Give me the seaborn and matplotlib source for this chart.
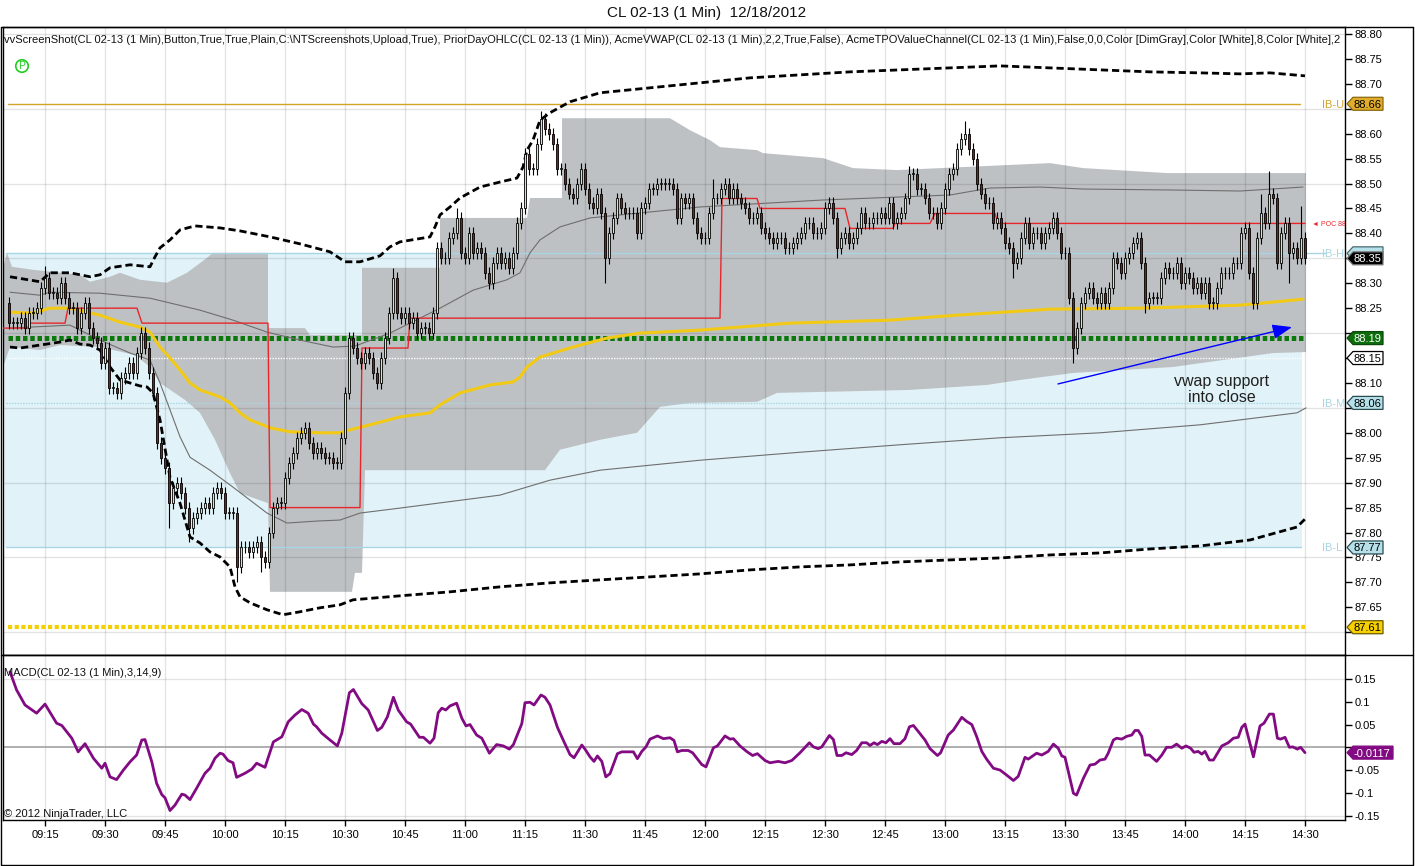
import numpy as np
import matplotlib
matplotlib.use("Agg")
import matplotlib.pyplot as plt
import seaborn as sns
from matplotlib.patches import Polygon, Rectangle
from matplotlib.lines import Line2D
from matplotlib.transforms import blended_transform_factory

sns.set_style("white")
plt.rcParams['font.family'] = ['Liberation Sans', 'DejaVu Sans']

# ---------------------------------------------------------------- data
TITLE = "CL 02-13 (1 Min)  12/18/2012"
HEADER = ("vvScreenShot(CL 02-13 (1 Min),Button,True,True,Plain,C:\\NTScreenshots,Upload,True), "
          "PriorDayOHLC(CL 02-13 (1 Min)), AcmeVWAP(CL 02-13 (1 Min),2,2,True,False), "
          "AcmeTPOValueChannel(CL 02-13 (1 Min),False,0,0,Color [DimGray],Color [White],8,Color [White],2")
MACD_LABEL = "MACD(CL 02-13 (1 Min),3,14,9)"
COPYRIGHT = "\u00a9 2012 NinjaTrader, LLC"

TIME_LABELS = ["09:15", "09:30", "09:45", "10:00", "10:15", "10:30", "10:45", "11:00",
               "11:15", "11:30", "11:45", "12:00", "12:15", "12:30", "12:45", "13:00",
               "13:15", "13:30", "13:45", "14:00", "14:15", "14:30"]
TIME_BARS = [9 + 15 * k for k in range(len(TIME_LABELS))]   # 1-min bars from 09:06

FIRST_OPEN = 88.26
CLOSE = [
    # 09:06 - 10:33
    88.22, 88.22, 88.22, 88.23, 88.21, 88.24, 88.24, 88.25, 88.29, 88.31,
    88.28, 88.28, 88.27, 88.30, 88.27, 88.25, 88.25, 88.21, 88.24, 88.26,
    88.21, 88.19, 88.18, 88.14, 88.17, 88.09, 88.09, 88.08, 88.11, 88.12,
    88.14, 88.12, 88.16, 88.20, 88.17, 88.12, 88.08, 87.98, 87.95, 87.93,
    87.86, 87.89, 87.90, 87.88, 87.85, 87.81, 87.83, 87.84, 87.85, 87.86,
    87.85, 87.88, 87.89, 87.88, 87.84, 87.84, 87.84, 87.73, 87.77, 87.77,
    87.76, 87.77, 87.78, 87.75, 87.74, 87.80, 87.85, 87.86, 87.86, 87.91,
    87.94, 87.96, 87.99, 88.00, 88.01, 87.98, 87.96, 87.97, 87.96, 87.95,
    87.95, 87.94, 87.94, 87.99, 88.08, 88.19, 88.17, 88.15,
    # 10:34 - 11:58
    88.14, 88.16, 88.15, 88.12, 88.10, 88.15, 88.19, 88.24, 88.31, 88.24,
    88.23, 88.24, 88.22, 88.23, 88.20, 88.21, 88.21, 88.20, 88.24, 88.37,
    88.35, 88.35, 88.39, 88.40, 88.43, 88.36, 88.35, 88.40, 88.36, 88.37,
    88.36, 88.32, 88.30, 88.34, 88.36, 88.34, 88.35, 88.33, 88.36, 88.42,
    88.45, 88.56, 88.53, 88.53, 88.58, 88.63, 88.61, 88.60, 88.58, 88.53,
    88.53, 88.50, 88.48, 88.47, 88.50, 88.53, 88.49, 88.46, 88.45, 88.48,
    88.44, 88.35, 88.40, 88.43, 88.47, 88.45, 88.44, 88.44, 88.44, 88.40,
    88.45, 88.46, 88.49, 88.49, 88.50, 88.50, 88.50, 88.50, 88.49, 88.43,
    88.47, 88.46, 88.47, 88.43, 88.40,
    # 11:59 - 13:26
    88.39, 88.39, 88.44, 88.47, 88.47, 88.49, 88.50, 88.47, 88.49, 88.47,
    88.46, 88.45, 88.43, 88.43, 88.44, 88.41, 88.40, 88.39, 88.38, 88.39,
    88.39, 88.37, 88.37, 88.38, 88.39, 88.40, 88.42, 88.42, 88.40, 88.40,
    88.41, 88.45, 88.46, 88.43, 88.37, 88.39, 88.40, 88.38, 88.39, 88.41,
    88.44, 88.42, 88.42, 88.43, 88.43, 88.44, 88.43, 88.46, 88.42, 88.43,
    88.44, 88.47, 88.52, 88.52, 88.49, 88.49, 88.47, 88.44, 88.44, 88.42,
    88.45, 88.49, 88.52, 88.53, 88.57, 88.59, 88.60, 88.57, 88.55, 88.50,
    88.48, 88.46, 88.46, 88.42, 88.43, 88.41, 88.38, 88.37, 88.34, 88.35,
    88.39, 88.42, 88.38, 88.40, 88.40, 88.38, 88.40, 88.41,
    # 13:27 - 14:30
    88.43, 88.40, 88.36, 88.36, 88.27, 88.17, 88.21, 88.26, 88.28, 88.29,
    88.27, 88.26, 88.28, 88.26, 88.29, 88.35, 88.34, 88.32, 88.35, 88.36,
    88.38, 88.39, 88.34, 88.26, 88.27, 88.27, 88.27, 88.31, 88.33, 88.32,
    88.32, 88.34, 88.30, 88.32, 88.31, 88.29, 88.30, 88.28, 88.30, 88.26,
    88.26, 88.29, 88.32, 88.32, 88.32, 88.34, 88.34, 88.40, 88.41, 88.32,
    88.26, 88.39, 88.44, 88.42, 88.48, 88.47, 88.34, 88.40, 88.42, 88.36,
    88.37, 88.35, 88.39, 88.35,
]
HIGH_OVERRIDE = {9: 88.335, 96: 88.33, 112: 88.45, 133: 88.645, 225: 88.535,
                 239: 88.625, 176: 88.51, 315: 88.525, 313: 88.48, 323: 88.455}
LOW_OVERRIDE = {40: 87.81, 45: 87.78, 57: 87.70, 63: 87.72, 149: 88.30, 207: 88.35,
                251: 88.31, 266: 88.14, 284: 88.24, 311: 88.25, 320: 88.30}

# TPO value channel (grey band) edges
TPO_UP_X = [-1.5, -0.5, 0.75, 6, 17.75, 20.25, 25.25, 27.75, 32.75, 39.5, 44.5, 49.5, 51, 64.75,
            64.75, 74, 75.25, 88.25, 88.25, 107.75, 107.75, 129.5, 130.25, 138.25, 138.25,
            165.25, 170.25, 175.25, 177.75, 187, 188.5, 203.5, 211, 222, 260.25, 268.5, 289.5, 324.25]
TPO_UP_Y = [88.33, 88.361, 88.333, 88.327, 88.317, 88.303, 88.313, 88.321, 88.307, 88.301,
            88.321, 88.351, 88.361, 88.361, 88.210, 88.210, 88.196, 88.196, 88.331, 88.331,
            88.431, 88.431, 88.471, 88.471, 88.631, 88.631, 88.607, 88.587, 88.573, 88.567,
            88.561, 88.551, 88.531, 88.527, 88.541, 88.531, 88.521, 88.521]
TPO_LO_X = [-1.5, 0.25, 7.75, 12.75, 22.75, 31.5, 35.25, 37.75, 44, 47.75, 51.5, 55.25, 57.75,
            64.75, 65.25, 85.75, 86.5, 88.25, 89, 134, 137.75, 147.75, 157, 162.75, 170.25, 187,
            192, 225.25, 244.5, 252.75, 266, 291, 316, 324.25]
TPO_LO_Y = [88.132, 88.172, 88.166, 88.176, 88.172, 88.156, 88.132, 88.100, 88.066, 88.040,
            87.986, 87.919, 87.879, 87.859, 87.681, 87.681, 87.719, 87.719, 87.925, 87.925,
            87.966, 87.986, 88.000, 88.052, 88.060, 88.062, 88.080, 88.086, 88.096, 88.106,
            88.120, 88.132, 88.160, 88.162]

# VWAP and its bands
VWAP_X = [0.25, 6, 10.25, 15.25, 22.75, 27.75, 32.75, 35.25, 37.75, 40.25, 42.75, 45.25, 47.75,
          52.75, 55.25, 57.75, 60.25, 65.25, 70.25, 77.75, 82.75, 85.25, 90.25, 97.75, 105.25,
          107.75, 112.75, 120.25, 126, 127.75, 129.5, 132.75, 141, 149.5, 157.75, 172.75, 195.25,
          220.25, 237, 260.25, 282.75, 307.75, 323.5]
VWAP_Y = [88.242, 88.240, 88.250, 88.250, 88.236, 88.222, 88.212, 88.202, 88.172, 88.150,
          88.126, 88.100, 88.086, 88.072, 88.060, 88.040, 88.026, 88.010, 88.002, 88.000,
          88.000, 88.006, 88.016, 88.032, 88.040, 88.056, 88.080, 88.096, 88.102, 88.112,
          88.132, 88.152, 88.172, 88.190, 88.200, 88.206, 88.220, 88.226, 88.236, 88.248,
          88.250, 88.256, 88.268]
UB2_X = [0.25, 7.75, 10.25, 15.25, 20.25, 22.75, 25.25, 30.25, 35.25, 36.5, 37.75, 40.25, 42.75,
         46.5, 52.75, 57.75, 65.25, 72.75, 80.25, 84, 87.75, 92.75, 95.25, 97.75, 105.25, 106.5,
         107.75, 110.25, 112.75, 117.75, 122.75, 127, 128.5, 129.5, 131, 132.75, 135.25, 140.25,
         147.75, 160.25, 172.75, 185.25, 197.75, 210.25, 222.75, 235.25, 247.75, 260.25, 272.75,
         285.25, 297.75, 307.75, 315.25, 324]
UB2_Y = [88.313, 88.303, 88.321, 88.321, 88.313, 88.317, 88.331, 88.337, 88.333, 88.353,
         88.371, 88.387, 88.407, 88.415, 88.411, 88.405, 88.393, 88.379, 88.363, 88.343,
         88.343, 88.355, 88.373, 88.383, 88.393, 88.413, 88.437, 88.453, 88.471, 88.493,
         88.503, 88.511, 88.533, 88.567, 88.587, 88.627, 88.642, 88.664, 88.682, 88.692,
         88.702, 88.712, 88.718, 88.724, 88.728, 88.732, 88.736, 88.732, 88.728, 88.724,
         88.722, 88.720, 88.722, 88.716]
LB2_X = [0.25, 2.75, 7.75, 12.75, 15.25, 17.75, 20.25, 22.75, 25.25, 27.75, 30.25, 32.75, 34.5,
         36, 37.75, 40.25, 42.75, 45.25, 47.75, 50.25, 52.75, 55.25, 56.5, 57.75, 60.25, 64.5,
         68.5, 72.75, 77.75, 82.75, 86, 97.75, 110.25, 122.75, 135.25, 147.75, 160.25, 172.75,
         185.25, 197.75, 210.25, 222.75, 235.25, 247.75, 260.25, 272.75, 285.25, 297.75, 310.25,
         322, 324.25]
LB2_Y = [88.172, 88.170, 88.176, 88.182, 88.186, 88.178, 88.176, 88.166, 88.132, 88.106,
         88.100, 88.094, 88.092, 88.080, 88.026, 87.911, 87.859, 87.791, 87.779, 87.761,
         87.751, 87.731, 87.691, 87.671, 87.659, 87.645, 87.635, 87.641, 87.649, 87.655,
         87.665, 87.673, 87.681, 87.691, 87.699, 87.705, 87.711, 87.717, 87.725, 87.731,
         87.735, 87.741, 87.745, 87.749, 87.755, 87.759, 87.767, 87.773, 87.785, 87.811, 87.829]
UB1_X = [0.25, 7.75, 10.25, 22.75, 35.25, 47.75, 56, 64.5, 72.75, 81, 86.5, 95.25, 107.75, 116,
         124.5, 127.75, 130.25, 132.75, 137.75, 145.25, 157.75, 172.75, 203.5, 235.25, 245.25,
         257.75, 268.5, 291, 307.75, 323.5]
UB1_Y = [88.282, 88.276, 88.282, 88.280, 88.270, 88.246, 88.226, 88.202, 88.186, 88.172,
         88.174, 88.200, 88.250, 88.286, 88.307, 88.321, 88.361, 88.387, 88.413, 88.431,
         88.441, 88.453, 88.467, 88.477, 88.491, 88.493, 88.489, 88.487, 88.485, 88.493]
LB1_X = [0.25, 15.25, 22.75, 30.25, 35.25, 37.75, 40.25, 42.75, 45.25, 50.25, 56, 60.25, 64.5,
         69.5, 77, 82.75, 87.75, 97.75, 122.75, 135.25, 147.75, 172.75, 197.75, 222.75, 247.75,
         272.75, 297.75, 322, 324.25]
LB1_Y = [88.210, 88.216, 88.186, 88.160, 88.146, 88.100, 88.046, 87.992, 87.951, 87.925,
         87.891, 87.865, 87.839, 87.819, 87.823, 87.825, 87.839, 87.849, 87.875, 87.905,
         87.925, 87.945, 87.961, 87.976, 87.990, 88.000, 88.016, 88.040, 88.050]

# Point of control (step line)
POC_X = [-1.5, 5.25, 5.25, 14, 14.75, 32, 33.25, 64.75, 65.25, 87.75, 88.25, 99.75, 100.25,
         177.75, 178.25, 187, 187.75, 209, 210.25, 221, 221.5, 230.25, 231.5, 246.5, 247.25, 324]
POC_Y = [88.21, 88.21, 88.22, 88.22, 88.25, 88.25, 88.22, 88.22, 87.85, 87.85, 88.17, 88.17,
         88.23, 88.23, 88.47, 88.47, 88.45, 88.45, 88.41, 88.41, 88.42, 88.42, 88.44, 88.44,
         88.42, 88.42]
POC_LAST = 88.42

# horizontal levels
IB_HIGH, IB_MID, IB_LOW, IB_UPPER = 88.36, 88.06, 87.77, 88.66
PRIOR_LEVEL_GREEN = 88.19
PRIOR_LEVEL_WHITE = 88.15
PRIOR_LEVEL_YELLOW = 87.61
LAST_PRICE = 88.35
MACD_LAST = -0.0117

PRICE_TICKS = [round(87.60 + 0.05 * k, 2) for k in range(25)]
HIDDEN_PRICE_LABELS = [87.60, 88.05, 88.15, 88.20, 88.65]   # covered by the price tags
MACD_TICKS = [0.15, 0.1, 0.05, 0.0, -0.05, -0.1, -0.15]
MACD_TICK_LABELS = ["0.15", "0.1", "0.05", "", "-0.05", "-0.1", "-0.15"]

MACD_POINTS = [(0.25,0.166),(1.9,0.126),(4,0.093),(6.9,0.075),(9,0.095),(11.9,0.053),(13.2,0.048),
    (15.7,0.020),(17.3,-0.010),(19,0.008),(21.1,-0.024),(23.2,-0.046),(24,-0.035),(25.25,-0.065),
    (26.9,-0.071),(28.6,-0.050),(30.25,-0.032),(31.9,-0.017),(33.2,0.016),(34,0.017),(35.7,-0.032),
    (36.9,-0.079),(38.2,-0.104),(39,-0.111),(40.25,-0.139),(41.5,-0.127),(43.2,-0.103),(44,-0.105),
    (45.25,-0.115),(46.9,-0.090),(49,-0.057),(50.25,-0.046),(51.5,-0.024),(52.75,-0.013),(53.5,-0.015),
    (54.75,-0.029),(56,-0.034),(56.9,-0.066),(59,-0.057),(60.7,-0.048),(61.9,-0.035),(64,-0.044),
    (66.1,0.012),(68.2,0.023),(69.8,0.056),(71.5,0.071),(73.2,0.083),(74.8,0.075),(76.1,0.051),
    (76.9,0.045),(78.2,0.031),(80.25,0.016),(82.1,0.003),(83.2,0.031),(85.1,0.120),(86.1,0.127),
    (88.2,0.096),(89.8,0.082),(92.1,0.037),(93.2,0.044),(94.6,0.067),(96.1,0.110),(97.3,0.082),
    (99.4,0.056),(100.4,0.051),(102.6,0.022),(103.6,0.022),(105.25,0.009),(106.25,0.020),(107.3,0.076),
    (108.2,0.086),(109.2,0.082),(110.25,0.091),(111.9,0.097),(113.2,0.064),(114.25,0.047),(115.25,0.050),
    (116.9,0.027),(118.2,0.020),(120.1,-0.013),(121.9,0.006),(123.6,0.003),(125.1,-0.004),(126.1,0.006),
    (128.2,0.052),(129,0.098),(130.25,0.099),(131.25,0.093),(133,0.115),(134,0.110),(135.25,0.093),
    (137.1,0.044),(138.6,0.015),(140.25,-0.016),(141.25,-0.023),(143.2,0.005),(144,-0.004),(145.25,-0.021),
    (146.25,-0.031),(147.1,-0.019),(148.2,-0.031),(149.2,-0.065),(150.25,-0.058),(152.1,-0.014),
    (153.2,-0.010),(156.1,-0.010),(157.1,-0.025),(158.2,-0.009),(159.25,0.001),(160.25,0.018),
    (162.1,0.025),(163.6,0.019),(165.25,0.021),(166.25,0.015),(167.1,-0.010),(168.2,-0.007),
    (169.8,-0.007),(170.9,-0.012),(173.2,-0.038),(174.25,-0.043),(176.1,-0.001),(177.1,0.003),
    (179,0.025),(180.25,0.018),(181.1,0.019),(182.75,0.003),(184.4,-0.009),(185.9,-0.018),(187.1,-0.014),
    (189,-0.029),(190.25,-0.034),(192.3,-0.031),(194,-0.034),(195.7,-0.029),(197.75,-0.012),(200.1,0.010),
    (201.1,0.001),(202.3,-0.003),(203.2,0.001),(205.1,0.026),(206.1,0.017),(207,-0.018),(208.2,-0.018),
    (209.25,-0.012),(210.7,-0.016),(211.9,-0.007),(213.2,0.010),(214.4,0.010),(215.25,0.004),
    (216.25,0.010),(217.1,0.006),(218.2,0.013),(219.25,0.010),(220.25,0.019),(221.25,0.008),
    (222.75,0.008),(224,0.019),(225.1,0.045),(226.1,0.048),(227.3,0.035),(229,0.016),(230.25,-0.003),
    (232.1,-0.018),(232.9,-0.012),(234.8,0.027),(236.1,0.038),(238.2,0.066),(239.4,0.057),(240.7,0.050),
    (241.9,0.024),(243.2,-0.009),(244.4,-0.026),(246.1,-0.046),(247.75,-0.050),(249.4,-0.061),
    (251.1,-0.073),(252.3,-0.064),(254,-0.022),(254.8,-0.026),(256.9,-0.013),(258.2,-0.017),
    (259.8,-0.009),(261.1,0.007),(262.3,-0.002),(263.2,-0.019),(264,-0.022),(266.1,-0.101),
    (266.9,-0.105),(268.6,-0.068),(270.25,-0.039),(271.5,-0.037),(272.75,-0.028),(274,-0.026),
    (274.8,-0.013),(276.1,0.016),(276.9,0.020),(278.2,0.018),(279.4,0.024),(280.7,0.027),(281.5,0.037),
    (282.3,0.037),(283.2,0.024),(284,-0.017),(285.1,-0.017),(286.9,-0.031),(288.2,-0.017),(289.4,0.0),
    (290.7,0.0),(291.9,0.007),(293.2,-0.002),(294.25,0.003),(295.4,-0.002),(296.25,-0.011),
    (297.3,-0.009),(298.2,-0.015),(299,-0.009),(300.1,-0.028),(301.1,-0.028),(303.2,0.003),
    (304.8,0.010),(306.1,0.020),(307.3,0.022),(308.2,0.044),(309,0.051),(311.1,-0.021),(312.75,0.047),
    (313.75,0.053),(315.1,0.073),(316.1,0.073),(317.1,0.020),(317.9,0.018),(319,0.022),(320.1,0.0),
    (320.9,0.001),(322.1,-0.004),(322.9,0.0),(324,-0.0117)]

ANNOT_TEXT = "vwap support\ninto close"
ANNOT_TEXT_POS = (303.25, 88.087)
ARROW_FROM = (262.25, 88.098)
ARROW_TO = (320.75, 88.212)

# ---------------------------------------------------------------- figure
W, H = 1415, 866
fig = plt.figure(figsize=(W / 100, H / 100), dpi=100)
fig.patch.set_facecolor("white")


def fx(p):
    return p / W


def fy(p):
    return 1 - p / H


ax = fig.add_axes([fx(3), fy(655), (1345 - 3) / W, (655 - 27) / H])
axm = fig.add_axes([fx(3), fy(820), (1345 - 3) / W, (820 - 655) / H])

XMIN, XMAX = -1.5, 334
YMIN, YMAX = 87.5543, 88.814
MMIN, MMAX = -0.1598, 0.2029
PX_PER_PRICE = 498.5
PX_PER_MACD = 455.0

for a in (ax, axm):
    a.set_facecolor("white")
    a.set_xlim(XMIN, XMAX)
    for s in a.spines.values():
        s.set_visible(True)
        s.set_color("black")
        s.set_linewidth(1)

# background regions
ax.add_patch(Rectangle((-1.0, IB_LOW), 323.25 + 1.0, IB_HIGH - IB_LOW,
                       fc="#e1f3f8", ec="none", zorder=1))
ax.fill(np.r_[TPO_UP_X, TPO_LO_X[::-1]], np.r_[TPO_UP_Y, TPO_LO_Y[::-1]],
        color="#bec1c4", lw=0, zorder=2)

# grids
for t in TIME_BARS:
    ax.axvline(t, color="black", alpha=0.11, lw=1, zorder=3)
    axm.axvline(t, color="black", alpha=0.11, lw=1, zorder=1)
for g in np.arange(87.60, 88.81, 0.15):
    ax.axhline(g, color="black", alpha=0.11, lw=1, zorder=3)
for g in (0.15, -0.15):
    axm.axhline(g, color="black", alpha=0.11, lw=1, zorder=1)
axm.axhline(0, color="#9a9a9a", lw=1.1, zorder=2)

# IB / prior-day levels
sns.lineplot(x=[-0.25, 322.75], y=[IB_UPPER, IB_UPPER], ax=ax, color="#d4a32a", lw=1,
             estimator=None, sort=False, zorder=3.5)
sns.lineplot(x=[-0.75, 329], y=[IB_HIGH, IB_HIGH], ax=ax, color="#a8d5e4", lw=1,
             estimator=None, sort=False, zorder=3.5)
sns.lineplot(x=[-0.75, 323], y=[IB_MID, IB_MID], ax=ax, color="#a8d5e4", lw=1,
             linestyle=(0, (1, 1)), estimator=None, sort=False, zorder=3.5)
sns.lineplot(x=[-0.75, 323], y=[IB_LOW, IB_LOW], ax=ax, color="#a8d5e4", lw=1,
             estimator=None, sort=False, zorder=3.5)
sns.lineplot(x=[-0.25, 324], y=[PRIOR_LEVEL_WHITE, PRIOR_LEVEL_WHITE], ax=ax, color="white",
             lw=1, linestyle=(0, (1, 1)), estimator=None, sort=False, zorder=3.6)
sns.lineplot(x=[-0.25, 324], y=[PRIOR_LEVEL_GREEN, PRIOR_LEVEL_GREEN], ax=ax, color="#0b780b",
             lw=3.6, linestyle=(0, (0.9, 0.55)), estimator=None, sort=False, zorder=3.7)
sns.lineplot(x=[-0.25, 324], y=[PRIOR_LEVEL_YELLOW, PRIOR_LEVEL_YELLOW], ax=ax, color="#f4d000",
             lw=3.0, linestyle=(0, (1.0, 0.6)), estimator=None, sort=False, zorder=3.7)

# VWAP bands
sns.lineplot(x=UB1_X, y=UB1_Y, ax=ax, color="#6e6e6e", lw=0.8, estimator=None, sort=False, zorder=4)
sns.lineplot(x=LB1_X, y=LB1_Y, ax=ax, color="#6e6e6e", lw=0.8, estimator=None, sort=False, zorder=4)
sns.lineplot(x=UB2_X, y=UB2_Y, ax=ax, color="black", lw=2.0, linestyle=(0, (2.6, 1.4)),
             estimator=None, sort=False, zorder=4)
sns.lineplot(x=LB2_X, y=LB2_Y, ax=ax, color="black", lw=2.0, linestyle=(0, (2.6, 1.4)),
             estimator=None, sort=False, zorder=4)
sns.lineplot(x=VWAP_X, y=VWAP_Y, ax=ax, color="#f2c914", lw=2.2, estimator=None, sort=False, zorder=4.2)
sns.lineplot(x=POC_X, y=POC_Y, ax=ax, color="#e8262a", lw=1.0, estimator=None, sort=False, zorder=4.3)

# candles
close = np.array(CLOSE)
opens = np.r_[FIRST_OPEN, close[:-1]]
bars = np.arange(len(close))
hi = np.maximum(opens, close) + 0.012
lo = np.minimum(opens, close) - 0.012
for k, v in HIGH_OVERRIDE.items():
    hi[k] = max(hi[k], v)
for k, v in LOW_OVERRIDE.items():
    lo[k] = min(lo[k], v)
body_lo = np.minimum(opens, close)
body_h = np.maximum(np.abs(close - opens), 0.0015)
up = close >= opens
ax.vlines(bars, lo, hi, color="black", lw=0.8, zorder=6)
ax.bar(bars[up], body_h[up], bottom=body_lo[up], width=0.72, color="#cfe6c6",
       edgecolor="black", linewidth=0.6, zorder=7)
ax.bar(bars[~up], body_h[~up], bottom=body_lo[~up], width=0.72, color="#8e1b1b",
       edgecolor="black", linewidth=0.6, zorder=7)

# annotation
ax.annotate("", xy=ARROW_TO, xytext=ARROW_FROM,
            arrowprops=dict(arrowstyle="-|>,head_length=0.85,head_width=0.32", color="#0000ff",
                            lw=1, mutation_scale=14, shrinkA=0, shrinkB=0), zorder=9)
ax.text(*ANNOT_TEXT_POS, ANNOT_TEXT, ha="center", va="center", fontsize=11.5,
        linespacing=1.15, color="#202020", zorder=9)

# MACD
mx, my = zip(*MACD_POINTS)
sns.lineplot(x=list(mx), y=list(my), ax=axm, color="#820a82", lw=2.0, estimator=None,
             sort=False, zorder=3)

# axes limits / ticks
ax.set_ylim(YMIN, YMAX)
axm.set_ylim(MMIN, MMAX)
ax.yaxis.tick_right()
ax.set_yticks(PRICE_TICKS)
ax.set_yticklabels(["" if v in HIDDEN_PRICE_LABELS else f"{v:.2f}" for v in PRICE_TICKS])
ax.tick_params(axis="y", direction="out", length=5, width=1, pad=2, labelsize=8,
               colors="black", right=True, left=False)
ax.tick_params(axis="x", bottom=False, labelbottom=False, top=False)
axm.yaxis.tick_right()
axm.set_yticks(MACD_TICKS)
axm.set_yticklabels(MACD_TICK_LABELS)
axm.tick_params(axis="y", direction="out", length=5, width=1, pad=2, labelsize=8,
                colors="black", right=True, left=False)
axm.set_xticks(TIME_BARS)
axm.set_xticklabels(TIME_LABELS)
axm.tick_params(axis="x", direction="out", length=4, width=1, pad=3, labelsize=8,
                colors="black", bottom=True)
for a in (ax, axm):
    a.set_xlabel("")
    a.set_ylabel("")


# right-hand price tags
def tag(axis, yval, text, fc, tc, ec=None, scale=PX_PER_PRICE, w=30, fs=8):
    tr = blended_transform_factory(fig.transFigure, axis.transData)
    h = 6.5 / scale
    x0, x1, x2 = fx(1347), fx(1353), fx(1353 + w)
    poly = Polygon([[x0, yval], [x1, yval + h], [x2, yval + h], [x2, yval - h], [x1, yval - h]],
                   closed=True, transform=tr, fc=fc, ec=ec or fc, lw=0.9, clip_on=False, zorder=20)
    axis.add_patch(poly)
    if text:
        axis.text(fx(1353 + w / 2 - 1), yval, text, transform=tr, ha="center",
                  va="center_baseline", color=tc, fontsize=fs, clip_on=False, zorder=21)


tag(ax, IB_UPPER, f"{IB_UPPER:.2f}", "#e0ac2a", "black", ec="#8a6a10")
tag(ax, IB_HIGH, "", "#b5e0ea", "black", ec="#4a6a70")      # hidden behind last-price tag
tag(ax, LAST_PRICE, f"{LAST_PRICE:.2f}", "black", "white", ec="#808080")
tag(ax, PRIOR_LEVEL_GREEN, f"{PRIOR_LEVEL_GREEN:.2f}", "#0b6e0b", "white", ec="#0b4a0b")
tag(ax, PRIOR_LEVEL_WHITE, f"{PRIOR_LEVEL_WHITE:.2f}", "white", "black", ec="black")
tag(ax, IB_MID, f"{IB_MID:.2f}", "#b5e0ea", "black", ec="#2a4a50")
tag(ax, IB_LOW, f"{IB_LOW:.2f}", "#b5e0ea", "black", ec="#2a4a50")
tag(ax, PRIOR_LEVEL_YELLOW, f"{PRIOR_LEVEL_YELLOW:.2f}", "#f7d000", "black", ec="#6a5a00")
tag(axm, MACD_LAST, f"{MACD_LAST:.4f}", "#820a82", "white", scale=PX_PER_MACD, w=40)

# level names beside the axis
trp = blended_transform_factory(fig.transFigure, ax.transData)
for name, lvl, col in (("IB-U", IB_UPPER, "#d4a32a"), ("IB-H", IB_HIGH, "#a8d5e4"),
                       ("IB-M", IB_MID, "#a8d5e4"), ("IB-L", IB_LOW, "#a8d5e4")):
    ax.text(fx(1322), lvl, name, transform=trp, ha="left", va="center_baseline",
            color=col, fontsize=8, zorder=10)
ax.text(fx(1312), POC_LAST, "\u25c4 POC 88.42", transform=trp, ha="left", va="center_baseline",
        color="#e8262a", fontsize=5, zorder=10, clip_on=True)

# texts
fig.text(fx(707), fy(13), TITLE, ha="center", va="center", fontsize=11, color="#111111")
ax.text(fx(4), fy(40), HEADER, transform=fig.transFigure, ha="left", va="center",
        fontsize=8, color="#111111", clip_on=True, zorder=12)
fig.text(fx(22), fy(66), "P", ha="center", va="center", fontsize=7.5, color="#22cc22",
         bbox=dict(boxstyle="circle,pad=0.12", fc="none", ec="#22cc22", lw=1.2))
fig.text(fx(4), fy(673), MACD_LABEL, ha="left", va="center", fontsize=8, color="#111111")
fig.text(fx(4), fy(814), COPYRIGHT, ha="left", va="center", fontsize=8, color="#111111")


# outer frame
def fline(x0, y0, x1, y1, lw=1.0):
    fig.add_artist(Line2D([fx(x0), fx(x1)], [fy(y0), fy(y1)], color="black", lw=lw,
                          transform=fig.transFigure))


fline(1.5, 27, 1413, 27)
fline(1.5, 655, 1413, 655)
fline(1413, 27, 1413, 865)
fline(1.5, 865, 1413, 865)
fline(1.5, 27, 1.5, 865)

fig.savefig("out.png", dpi=100, facecolor="white")
